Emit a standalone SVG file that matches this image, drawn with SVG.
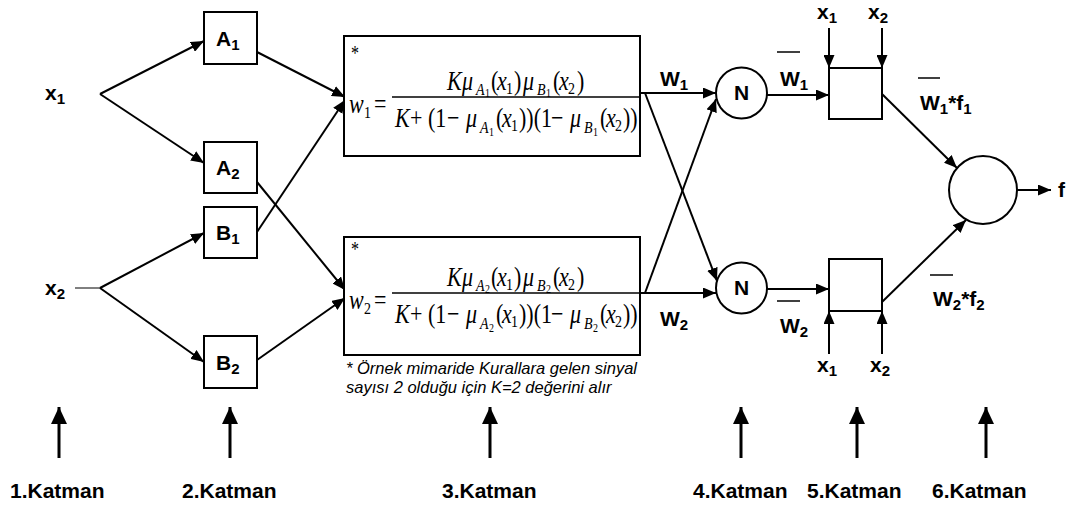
<svg xmlns="http://www.w3.org/2000/svg" width="1068" height="506" viewBox="0 0 1068 506">
<style>
.l{font-family:"Liberation Sans",Arial,sans-serif;font-weight:bold;font-size:21px;fill:#000}
.s{font-size:15px}
.k{font-family:"Liberation Sans",Arial,sans-serif;font-weight:bold;font-size:21px;fill:#000}
.m{font-family:"Liberation Serif","Times New Roman",serif;font-size:22px;fill:#000}
.i{font-style:italic}
.s1{font-size:14px}
.s2{font-size:10px}
.fn{font-family:"Liberation Sans",Arial,sans-serif;font-style:italic;font-size:16.5px;fill:#000}
.box{fill:#fff;stroke:#000;stroke-width:2}
.c{stroke:#000;stroke-width:2;fill:none}
.ol{stroke:#000;stroke-width:1.5}
</style>
<defs>
<marker id="ah" markerUnits="userSpaceOnUse" markerWidth="13" markerHeight="11" refX="13" refY="5.5" orient="auto"><path d="M0,0 L13,5.5 L0,11 z" fill="#000"/></marker>
<marker id="big" markerUnits="userSpaceOnUse" markerWidth="17" markerHeight="16" refX="17" refY="8" orient="auto"><path d="M0,0 L17,8 L0,16 z" fill="#000"/></marker>
</defs>

<g id="connectors">
<line class="c" x1="100" y1="94" x2="204" y2="41" marker-end="url(#ah)"/>
<line class="c" x1="100" y1="94" x2="204" y2="163" marker-end="url(#ah)"/>
<line stroke="#000" stroke-width="1" x1="75" y1="288" x2="100" y2="288"/>
<line class="c" x1="100" y1="288" x2="204" y2="233" marker-end="url(#ah)"/>
<line class="c" x1="100" y1="288" x2="204" y2="362" marker-end="url(#ah)"/>
<line class="c" x1="257" y1="52" x2="345" y2="97" marker-end="url(#ah)"/>
<line class="c" x1="257" y1="232" x2="345" y2="100" marker-end="url(#ah)"/>
<line class="c" x1="257" y1="182" x2="345" y2="290" marker-end="url(#ah)"/>
<line class="c" x1="257" y1="360" x2="345" y2="298" marker-end="url(#ah)"/>
<line class="c" x1="640" y1="93" x2="716" y2="93" marker-end="url(#ah)"/>
<line class="c" x1="645" y1="93" x2="717" y2="281" marker-end="url(#ah)"/>
<line class="c" x1="640" y1="293" x2="716" y2="293" marker-end="url(#ah)"/>
<line class="c" x1="645" y1="293" x2="716" y2="99" marker-end="url(#ah)"/>
<line class="c" x1="767" y1="95" x2="829" y2="95" marker-end="url(#ah)"/>
<line class="c" x1="767" y1="289" x2="829" y2="289" marker-end="url(#ah)"/>
<line class="c" x1="882" y1="94" x2="957" y2="168" marker-end="url(#ah)"/>
<line class="c" x1="882" y1="302" x2="966" y2="220" marker-end="url(#ah)"/>
<line class="c" x1="1017" y1="190" x2="1051" y2="190" marker-end="url(#ah)"/>
<line class="c" x1="829" y1="28" x2="829" y2="68" marker-end="url(#ah)"/>
<line class="c" x1="882" y1="28" x2="882" y2="68" marker-end="url(#ah)"/>
<line class="c" x1="829" y1="354" x2="829" y2="311" marker-end="url(#ah)"/>
<line class="c" x1="882" y1="354" x2="882" y2="311" marker-end="url(#ah)"/>
</g>

<g id="inputs">
<text class="l" x="45" y="100">x<tspan class="s" dy="4">1</tspan></text>
<text class="l" x="45" y="295">x<tspan class="s" dy="4">2</tspan></text>
</g>

<g id="A1"><rect class="box" x="204" y="12" width="53" height="52"/><text class="l" x="216" y="46">A<tspan class="s" dy="4">1</tspan></text></g>
<g id="A2"><rect class="box" x="204" y="142" width="53" height="51"/><text class="l" x="216" y="175">A<tspan class="s" dy="4">2</tspan></text></g>
<g id="B1"><rect class="box" x="204" y="207" width="53" height="51"/><text class="l" x="216" y="240">B<tspan class="s" dy="4">1</tspan></text></g>
<g id="B2"><rect class="box" x="204" y="336" width="53" height="52"/><text class="l" x="216" y="370">B<tspan class="s" dy="4">2</tspan></text></g>

<g id="rule1">
<rect class="box" x="344" y="36" width="296" height="120"/>
<line class="ol" x1="392" y1="97" x2="640" y2="97"/>
<g transform="translate(0,97) scale(1,1.25)">
<text class="m" x="351" y="-30" style="font-size:16px">*</text>
<text class="m"><tspan class="i" x="349" y="12.8">w</tspan><tspan class="s1" x="364" y="16.8">1</tspan><tspan x="374" y="12.8">=</tspan></text>
<text class="m"><tspan class="i" x="447" y="-5.6">K</tspan><tspan class="i" x="462" y="-5.6">μ</tspan><tspan class="i s1" x="476" y="-1.8">A</tspan><tspan class="s2" x="485" y="-0.4">1</tspan><tspan x="491" y="-5.6">(</tspan><tspan class="i" x="497" y="-5.6">x</tspan><tspan class="s1" x="506" y="-2.4">1</tspan><tspan x="514" y="-5.6">)</tspan><tspan class="i" x="523" y="-5.6">μ</tspan><tspan class="i s1" x="537" y="-1.8">B</tspan><tspan class="s2" x="546" y="-0.4">1</tspan><tspan x="553" y="-5.6">(</tspan><tspan class="i" x="559" y="-5.6">x</tspan><tspan class="s1" x="568" y="-2.4">2</tspan><tspan x="577" y="-5.6">)</tspan></text>
<text class="m"><tspan class="i" x="395" y="24">K</tspan><tspan x="410" y="24">+</tspan><tspan x="428" y="24">(1</tspan><tspan x="447" y="24">−</tspan><tspan class="i" x="466" y="24">μ</tspan><tspan class="i s1" x="480" y="28.8">A</tspan><tspan class="s2" x="489" y="31.2">1</tspan><tspan x="496" y="24">(</tspan><tspan class="i" x="502" y="24">x</tspan><tspan class="s1" x="511" y="27.2">1</tspan><tspan x="519" y="24">))(1</tspan><tspan x="551" y="24">−</tspan><tspan class="i" x="570" y="24">μ</tspan><tspan class="i s1" x="584" y="28.8">B</tspan><tspan class="s2" x="593" y="31.2">1</tspan><tspan x="600" y="24">(</tspan><tspan class="i" x="606" y="24">x</tspan><tspan class="s1" x="615" y="27.2">2</tspan><tspan x="623" y="24">))</tspan></text>
</g>
</g>

<g id="rule2">
<rect class="box" x="344" y="237" width="296" height="118"/>
<line class="ol" x1="392" y1="293" x2="640" y2="293"/>
<g transform="translate(0,293) scale(1,1.25)">
<text class="m" x="351" y="-30" style="font-size:16px">*</text>
<text class="m"><tspan class="i" x="349" y="12.8">w</tspan><tspan class="s1" x="364" y="16.8">2</tspan><tspan x="374" y="12.8">=</tspan></text>
<text class="m"><tspan class="i" x="447" y="-5.6">K</tspan><tspan class="i" x="462" y="-5.6">μ</tspan><tspan class="i s1" x="476" y="-1.8">A</tspan><tspan class="s2" x="485" y="-0.4">2</tspan><tspan x="491" y="-5.6">(</tspan><tspan class="i" x="497" y="-5.6">x</tspan><tspan class="s1" x="506" y="-2.4">1</tspan><tspan x="514" y="-5.6">)</tspan><tspan class="i" x="523" y="-5.6">μ</tspan><tspan class="i s1" x="537" y="-1.8">B</tspan><tspan class="s2" x="546" y="-0.4">2</tspan><tspan x="553" y="-5.6">(</tspan><tspan class="i" x="559" y="-5.6">x</tspan><tspan class="s1" x="568" y="-2.4">2</tspan><tspan x="577" y="-5.6">)</tspan></text>
<text class="m"><tspan class="i" x="395" y="24">K</tspan><tspan x="410" y="24">+</tspan><tspan x="428" y="24">(1</tspan><tspan x="447" y="24">−</tspan><tspan class="i" x="466" y="24">μ</tspan><tspan class="i s1" x="480" y="28.8">A</tspan><tspan class="s2" x="489" y="31.2">2</tspan><tspan x="496" y="24">(</tspan><tspan class="i" x="502" y="24">x</tspan><tspan class="s1" x="511" y="27.2">1</tspan><tspan x="519" y="24">))(1</tspan><tspan x="551" y="24">−</tspan><tspan class="i" x="570" y="24">μ</tspan><tspan class="i s1" x="584" y="28.8">B</tspan><tspan class="s2" x="593" y="31.2">2</tspan><tspan x="600" y="24">(</tspan><tspan class="i" x="606" y="24">x</tspan><tspan class="s1" x="615" y="27.2">2</tspan><tspan x="623" y="24">))</tspan></text>
</g>
</g>

<g id="footnote">
<text class="fn" x="346" y="374" textLength="291" lengthAdjust="spacing">* Örnek mimaride Kurallara gelen sinyal</text>
<text class="fn" x="346" y="393">sayısı 2 olduğu için K=2 değerini alır</text>
</g>

<g id="weights">
<text class="l" x="660" y="86">W<tspan class="s" dy="4">1</tspan></text>
<text class="l" x="660" y="326">W<tspan class="s" dy="4">2</tspan></text>
</g>

<g id="N1"><circle class="box" cx="741.5" cy="93" r="25.5"/><text class="l" x="741.5" y="100" text-anchor="middle">N</text></g>
<g id="N2"><circle class="box" cx="741.5" cy="288" r="25.5"/><text class="l" x="741.5" y="295" text-anchor="middle">N</text></g>

<g id="normlabels">
<line class="ol" x1="777" y1="52" x2="800" y2="52"/>
<text class="l" x="780" y="86">W<tspan class="s" dy="4">1</tspan></text>
<line class="ol" x1="777" y1="301" x2="800" y2="301"/>
<text class="l" x="780" y="333">W<tspan class="s" dy="4">2</tspan></text>
</g>

<g id="P1"><rect class="box" x="829" y="68" width="53" height="51"/></g>
<g id="P2"><rect class="box" x="829" y="259" width="53" height="52"/></g>

<g id="p-inputs">
<text class="l" x="817" y="19">x<tspan class="s" dy="4">1</tspan></text>
<text class="l" x="868" y="19">x<tspan class="s" dy="4">2</tspan></text>
<text class="l" x="817" y="372">x<tspan class="s" dy="4">1</tspan></text>
<text class="l" x="870" y="372">x<tspan class="s" dy="4">2</tspan></text>
</g>

<g id="prodlabels">
<line class="ol" x1="918" y1="78" x2="940" y2="78"/>
<text class="l" x="920" y="110">W<tspan class="s" dy="4">1</tspan><tspan dy="-4">*f</tspan><tspan class="s" dy="4">1</tspan></text>
<line class="ol" x1="930" y1="275" x2="953" y2="275"/>
<text class="l" x="933" y="306">W<tspan class="s" dy="4">2</tspan><tspan dy="-4">*f</tspan><tspan class="s" dy="4">2</tspan></text>
</g>

<g id="sum"><circle class="box" cx="983" cy="190" r="34"/></g>
<g id="output"><text class="l" x="1058" y="197">f</text></g>

<g id="layers">
<line stroke="#000" stroke-width="3" x1="59" y1="458" x2="59" y2="407" marker-end="url(#big)"/>
<line stroke="#000" stroke-width="3" x1="230" y1="458" x2="230" y2="407" marker-end="url(#big)"/>
<line stroke="#000" stroke-width="3" x1="490" y1="458" x2="490" y2="407" marker-end="url(#big)"/>
<line stroke="#000" stroke-width="3" x1="741" y1="458" x2="741" y2="407" marker-end="url(#big)"/>
<line stroke="#000" stroke-width="3" x1="857" y1="458" x2="857" y2="407" marker-end="url(#big)"/>
<line stroke="#000" stroke-width="3" x1="986" y1="458" x2="986" y2="407" marker-end="url(#big)"/>
<text class="k" x="10" y="498">1.Katman</text>
<text class="k" x="182" y="498">2.Katman</text>
<text class="k" x="442" y="498">3.Katman</text>
<text class="k" x="693" y="498">4.Katman</text>
<text class="k" x="807" y="498">5.Katman</text>
<text class="k" x="932" y="498">6.Katman</text>
</g>
</svg>
